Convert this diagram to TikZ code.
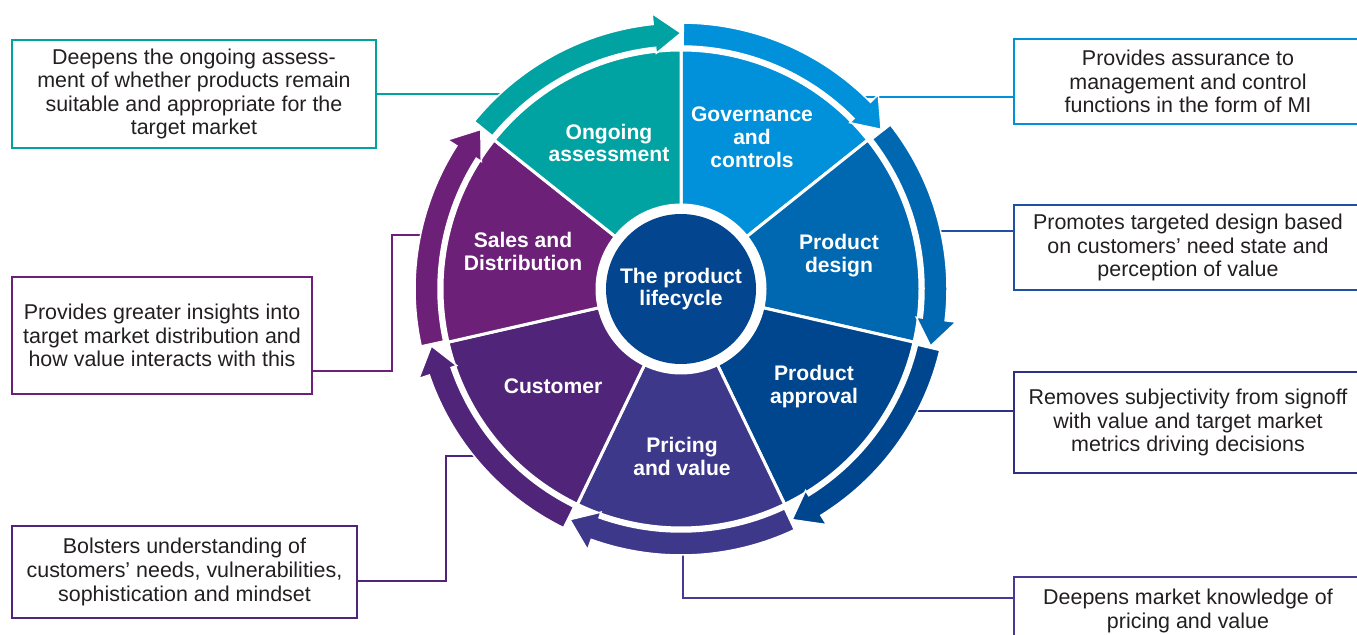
\documentclass[tikz,border=0pt]{standalone}
\usepackage{fontspec}
\setmainfont{Liberation Sans}
\usepackage{tikz}
\newlength{\segmentinner}
\newlength{\segmentouter}
\newlength{\bandinner}
\newlength{\bandouter}
\newlength{\headinner}
\newlength{\headouter}
\newlength{\headtip}
\newlength{\hubradius}
\setlength{\segmentinner}{16.8mm}
\setlength{\segmentouter}{47.8mm}
\setlength{\bandinner}{48.6mm}
\setlength{\bandouter}{53.2mm}
\setlength{\headinner}{47.4mm}
\setlength{\headouter}{55.4mm}
\setlength{\headtip}{51.2mm}
\setlength{\hubradius}{15mm}
\newcommand{\segmentangle}{51.4286}
\definecolor{ongoingteal}{HTML}{00A3A1}
\definecolor{govblue}{HTML}{0091DA}
\definecolor{designblue}{HTML}{0067B1}
\definecolor{approvalblue}{HTML}{00468E}
\definecolor{pricingviolet}{HTML}{3E388B}
\definecolor{customerpurple}{HTML}{502479}
\definecolor{salespurple}{HTML}{6D2077}
\definecolor{hubblue}{HTML}{03468F}
\definecolor{designline}{HTML}{2150A3}
\definecolor{approvalline}{HTML}{2E3183}
\definecolor{pricingline}{HTML}{4A3992}
\definecolor{notetext}{HTML}{231F20}
\newcommand{\notefont}{\fontsize{12.2}{13.4}\selectfont}
\newcommand{\labelfont}{\bfseries\fontsize{12}{13}\selectfont}
\newcommand{\wheelsegment}[2]{
	\filldraw[fill=#2, draw=white, line width=0.6mm] (#1:\segmentinner) -- (#1:\segmentouter) arc[start angle=#1, end angle=#1-\segmentangle, radius=\segmentouter] -- ({#1-\segmentangle}:\segmentinner) arc[start angle=#1-\segmentangle, end angle=#1, radius=\segmentinner] -- cycle;
}
\newcommand{\wheelarrow}[2]{
	\filldraw[fill=#2, draw=white, line width=0.3mm] ({#1-0.5}:\bandinner) -- ({#1-0.5}:\bandouter) arc[start angle=#1-0.5, end angle=#1-\segmentangle+6, radius=\bandouter] -- ({#1-\segmentangle+6}:\headouter) -- ({#1-\segmentangle}:\headtip) -- ({#1-\segmentangle+6}:\headinner) -- ({#1-\segmentangle+6}:\bandinner) arc[start angle=#1-\segmentangle+6, end angle=#1-0.5, radius=\bandinner] -- cycle;
}
\tikzstyle{notebox} = [inner sep=0, line width=0.4mm, align=center, text=notetext, font=\notefont]
\tikzstyle{noteline} = [line width=0.4mm]
\tikzstyle{segmentlabel} = [inner sep=0, text=white, align=center, font=\labelfont]
\tikzstyle{hub} = [circle, fill=hubblue, minimum size=2\hubradius, inner sep=0, text=white, align=center, font=\labelfont]

\begin{document}
\begin{tikzpicture}[
		x=0.2mm, y=-0.2mm
		]
		\useasboundingbox (0,0) rectangle (1357,635);
		
		% notes on the left and right
		\node[notebox, draw=ongoingteal, minimum width=72.8mm, minimum height=21.6mm] (ongoingbox) at (194,94) {Deepens the ongoing assess-\\ment of whether products remain\\suitable and appropriate for the\\target market};
		\node[notebox, draw=govblue, minimum width=69.6mm, minimum height=17mm] (govbox) at (1188,81.5) {Provides assurance to\\management and control\\functions in the form of MI};
		\node[notebox, draw=designline, minimum width=69.6mm, minimum height=17mm] (designbox) at (1188,247.5) {Promotes targeted design based\\on customers’ need state and\\perception of value};
		\node[notebox, draw=approvalline, minimum width=69.6mm, minimum height=20.2mm] (approvalbox) at (1188,422.5) {Removes subjectivity from signoff\\with value and target market\\metrics driving decisions};
		\node[notebox, draw=pricingline, minimum width=69.6mm, minimum height=13.6mm] (pricingbox) at (1188,611) {Deepens market knowledge of\\pricing and value};
		\node[notebox, draw=salespurple, minimum width=60mm, minimum height=23.4mm] (salesbox) at (162,335.5) {Provides greater insights into\\target market distribution and\\how value interacts with this};
		\node[notebox, draw=customerpurple, minimum width=69mm, minimum height=18.4mm] (customerbox) at (184.5,572) {Bolsters understanding of\\customers’ needs, vulnerabilities,\\sophistication and mindset};
		
		\coordinate (ongoingport) at (510,94);
		\coordinate (govport) at (850,97);
		\coordinate (designport) at (930,231);
		\coordinate (approvalport) at (905,411);
		\coordinate (pricingport) at (683,545);
		\coordinate (pricingknee) at (683,598);
		\coordinate (salesport) at (430,235);
		\coordinate (salesknee) at (392,235);
		\coordinate (salesfoot) at (392,371);
		\coordinate (customerport) at (484,456);
		\coordinate (customerknee) at (446,456);
		\coordinate (customerfoot) at (446,581);
		
		\draw[noteline, ongoingteal] (ongoingbox.east) -- (ongoingport);
		\draw[noteline, govblue] (govport) -- (govport -| govbox.west);
		\draw[noteline, designline] (designport) -- (designport -| designbox.west);
		\draw[noteline, approvalline] (approvalport) -- (approvalport -| approvalbox.west);
		\draw[noteline, pricingline] (pricingport) -- (pricingknee) -- (pricingknee -| pricingbox.west);
		\draw[noteline, salespurple] (salesport) -- (salesknee) -- (salesfoot) -- (salesfoot -| salesbox.east);
		\draw[noteline, customerpurple] (customerport) -- (customerknee) -- (customerfoot) -- (customerfoot -| customerbox.east);
		
		% the wheel
		\begin{scope}[shift={(681,289)}]
			\wheelsegment{90}{govblue}
			\wheelsegment{38.5714}{designblue}
			\wheelsegment{-12.8571}{approvalblue}
			\wheelsegment{-64.2857}{pricingviolet}
			\wheelsegment{-115.7143}{customerpurple}
			\wheelsegment{-167.1429}{salespurple}
			\wheelsegment{141.4286}{ongoingteal}
			
			\wheelarrow{90}{govblue}
			\wheelarrow{38.5714}{designblue}
			\wheelarrow{-12.8571}{approvalblue}
			\wheelarrow{-64.2857}{pricingviolet}
			\wheelarrow{-115.7143}{customerpurple}
			\wheelarrow{-167.1429}{salespurple}
			\wheelarrow{141.4286}{ongoingteal}
		\end{scope}
		
		\node[hub] (hub) at (681,289) {The product\\lifecycle};
		
		\node[segmentlabel] (ongoinglabel) at (609,143) {Ongoing\\assessment};
		\node[segmentlabel] (govlabel) at (752,137) {Governance\\and\\controls};
		\node[segmentlabel] (designlabel) at (839,255.5) {Product\\design};
		\node[segmentlabel] (approvallabel) at (814,386.5) {Product\\approval};
		\node[segmentlabel] (pricinglabel) at (682,456.5) {Pricing\\and value};
		\node[segmentlabel] (customerlabel) at (553,386) {Customer};
		\node[segmentlabel] (saleslabel) at (523,251.5) {Sales and\\Distribution};
		
	\end{tikzpicture}
\end{document}
